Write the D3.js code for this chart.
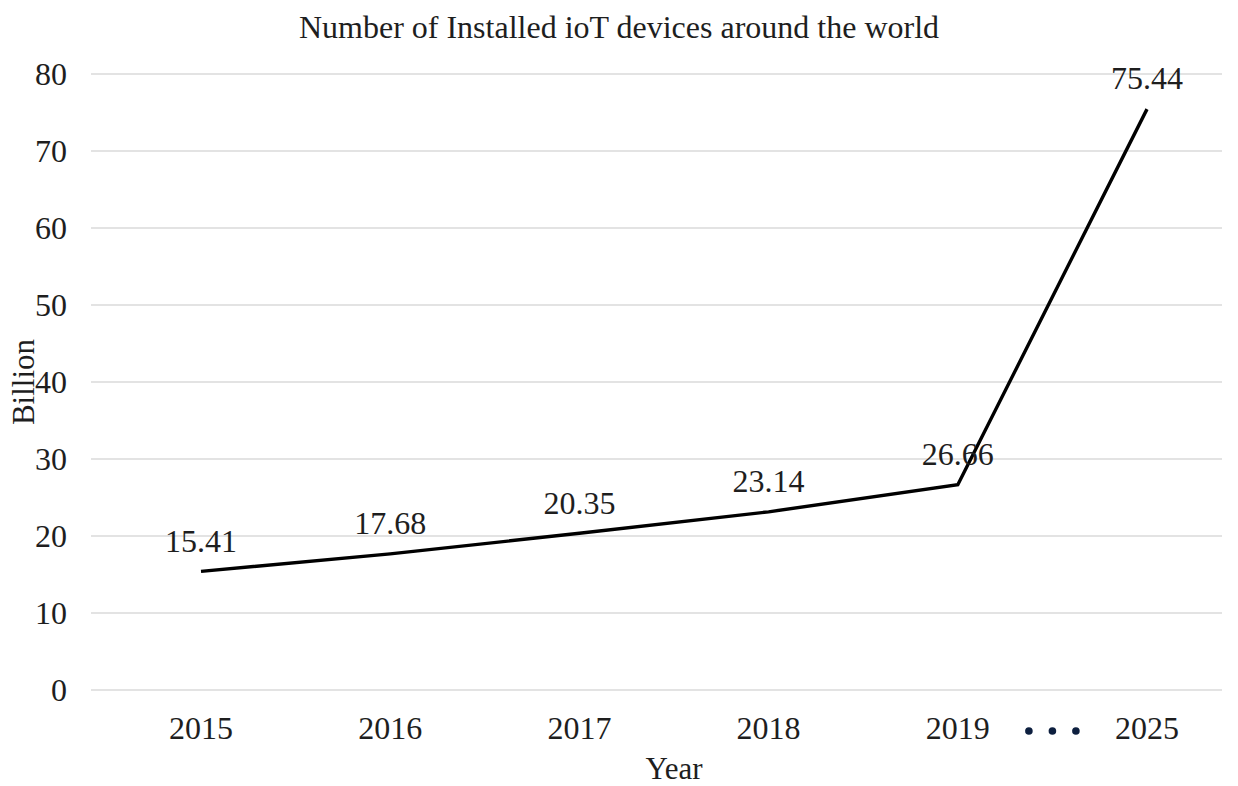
<!DOCTYPE html>
<html>
<head>
<meta charset="utf-8">
<script src="https://cdn.jsdelivr.net/npm/d3@7"></script>
<style>
  body { margin: 0; background: #fff; }
  text { font-family: "Liberation Serif", "Times New Roman", serif; fill: #1e1e1e; }
</style>
</head>
<body>
<svg id="chart" width="1238" height="786"></svg>
<script>
// Installed IoT devices (billions) by year
const years = ["2015", "2016", "2017", "2018", "2019", "2025"];
const devices = [15.41, 17.68, 20.35, 23.14, 26.66, 75.44];
const yTicks = [0, 10, 20, 30, 40, 50, 60, 70, 80];
const gapDots = [0, 1, 2]; // ellipsis between 2019 and 2025

const svg = d3.select("#chart");
const gridLeft = 91, gridRight = 1222;

const x = d3.scalePoint().domain(years).range([201, 1147]);
const y = d3.scaleLinear().domain([0, 80]).range([690, 74]);

// horizontal gridlines
svg.append("g").selectAll("line").data(yTicks).join("line")
  .attr("x1", gridLeft).attr("x2", gridRight)
  .attr("y1", d => y(d)).attr("y2", d => y(d))
  .attr("stroke", "#dadada").attr("stroke-width", 1.5);

// y tick labels
svg.append("g").selectAll("text").data(yTicks).join("text")
  .attr("x", 67).attr("y", d => y(d)).attr("dy", "0.35em")
  .attr("text-anchor", "end").attr("font-size", 32).text(d => d);

// x tick labels
svg.append("g").selectAll("text").data(years).join("text")
  .attr("x", d => x(d)).attr("y", 728).attr("dy", "0.35em")
  .attr("text-anchor", "middle").attr("font-size", 32).text(d => d);

// ellipsis marking the skipped years
const midGap = (x("2019") + x("2025")) / 2;
svg.append("g").selectAll("circle").data(gapDots).join("circle")
  .attr("cx", d => midGap + (d - 1) * 23.5).attr("cy", 731).attr("r", 3.8)
  .attr("fill", "#0d1f3f");

// series line
const line = d3.line().x((d, i) => x(years[i])).y(d => y(d));
svg.append("path").datum(devices)
  .attr("d", line).attr("fill", "none")
  .attr("stroke", "#000").attr("stroke-width", 3.4).attr("stroke-linejoin", "miter");

// value labels
svg.append("g").selectAll("text").data(devices).join("text")
  .attr("x", (d, i) => x(years[i])).attr("y", d => y(d) - 31).attr("dy", "0.35em")
  .attr("text-anchor", "middle").attr("font-size", 32).text(d => d.toFixed(2));

// title and axis titles
svg.append("text").attr("x", 619).attr("y", 27).attr("dy", "0.35em")
  .attr("text-anchor", "middle").attr("font-size", 32)
  .text("Number of Installed ioT devices around the world");
svg.append("text").attr("x", 674).attr("y", 768).attr("dy", "0.35em")
  .attr("text-anchor", "middle").attr("font-size", 31).text("Year");
svg.append("text").attr("transform", "translate(23,382) rotate(-90)").attr("dy", "0.35em")
  .attr("text-anchor", "middle").attr("font-size", 31).text("Billion");
</script>
</body>
</html>
